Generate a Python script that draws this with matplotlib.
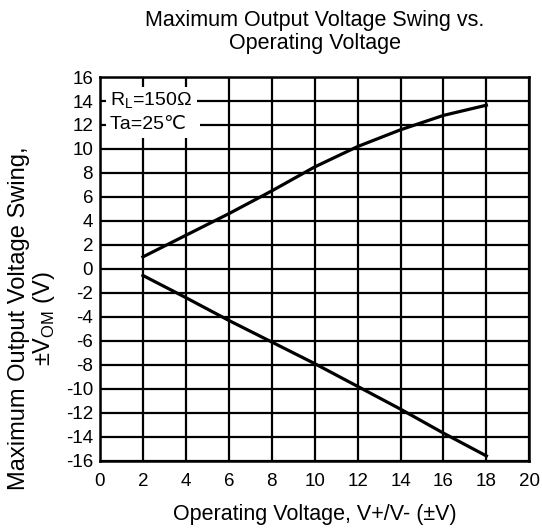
import matplotlib
matplotlib.use("Agg")
from matplotlib import pyplot as plt

plt.rcParams["font.family"] = ["Liberation Sans", "DejaVu Sans"]

# positive swing
vcc_pos = [2, 4, 6, 8, 10, 12, 14, 16, 18]
vom_pos = [1.0, 2.8, 4.6, 6.5, 8.5, 10.2, 11.6, 12.8, 13.65]

# negative swing
vcc_neg = [2, 4, 6, 8, 10, 12, 14, 16, 18]
vom_neg = [-0.55, -2.4, -4.3, -6.1, -7.9, -9.8, -11.7, -13.7, -15.6]

x_ticks = list(range(0, 21, 2))
y_ticks = list(range(-16, 17, 2))
y_ticklabels = [str(v) for v in y_ticks]

fig = plt.figure(figsize=(5.42, 5.29), dpi=100)
ax = fig.add_axes([0.1845, 0.1291, 0.7921, 0.7253])

ax.plot(vcc_pos, vom_pos, color="black", linewidth=2.3, zorder=3)
ax.plot(vcc_neg, vom_neg, color="black", linewidth=2.3, zorder=3)

ax.set_xlim(0, 20)
ax.set_ylim(-16, 16)
ax.set_xticks(x_ticks)
ax.set_yticks(y_ticks)
ax.set_yticklabels(y_ticklabels)
ax.grid(True, color="black", linewidth=1.6)
ax.tick_params(length=0, labelsize=13.5)
ax.tick_params(axis="x", pad=9)
ax.tick_params(axis="y", pad=5)
for spine in ax.spines.values():
    spine.set_linewidth(1.8)

box = dict(facecolor="white", edgecolor="none", pad=3)
ax.text(0.45, 14, "R$_\\mathregular{L}$=150Ω ", fontsize=14, va="center", ha="left",
        bbox=box, zorder=4)
ax.text(0.45, 12, "Ta=25℃  ", fontsize=14, va="center", ha="left",
        bbox=box, zorder=4)

ax.set_title("Maximum Output Voltage Swing vs.\nOperating Voltage", fontsize=15.5,
             pad=20, linespacing=1.15)
ax.set_xlabel("Operating Voltage, V+/V- (±V)", fontsize=15.5, labelpad=10)
ax.set_ylabel("Maximum Output Voltage Swing,\n±V$_\\mathregular{OM}$ (V)", fontsize=17,
              linespacing=1.05)
ax.yaxis.set_label_coords(-0.10, 0.37)

fig.savefig("out.png", dpi=100)
